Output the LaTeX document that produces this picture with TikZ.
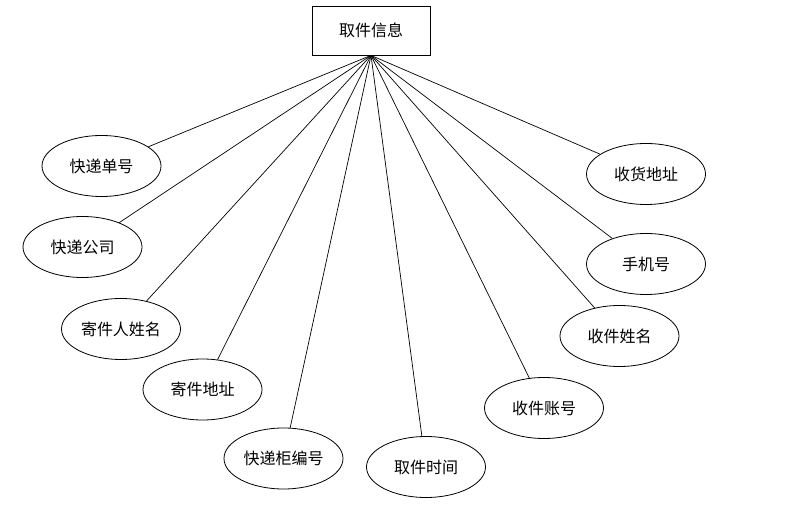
\documentclass[tikz,border=0pt]{standalone}
\usepackage{fontspec}
\newfontfamily\cjk{Noto Sans CJK SC}
\usetikzlibrary{shapes.geometric}
\tikzset{
  attr/.style={draw, ellipse, minimum width=119pt, minimum height=61pt, inner sep=0pt, line width=0.8pt},
  entity/.style={draw, rectangle, minimum width=118pt, minimum height=49pt, inner sep=0pt, line width=0.8pt},
  link/.style={line width=0.7pt}
}
\begin{document}
\begin{tikzpicture}[x=1pt,y=-1pt, font=\cjk\fontsize{16}{19}\selectfont]
\useasboundingbox (0,0) rectangle (788,526);
\node[entity] (box) at (371,30.5) {取件信息};
\node[attr] (a1) at (101.5,166) {快递单号};
\node[attr] (a2) at (82.5,247) {快递公司};
\node[attr] (a3) at (121,329) {寄件人姓名};
\node[attr] (a4) at (202.5,389.5) {寄件地址};
\node[attr] (a5) at (283.5,458.5) {快递柜编号};
\node[attr] (a6) at (426,467) {取件时间};
\node[attr] (a7) at (544,408) {收件账号};
\node[attr] (a8) at (619.5,336) {收件姓名};
\node[attr] (a9) at (646,264) {手机号};
\node[attr] (a10) at (646,174) {收货地址};
\coordinate (apex) at (box.south);
\foreach \n in {a1,a2,a3,a4,a5,a6,a7,a8,a9,a10}
  \draw[link] (apex) -- (\n);
\end{tikzpicture}
\end{document}
